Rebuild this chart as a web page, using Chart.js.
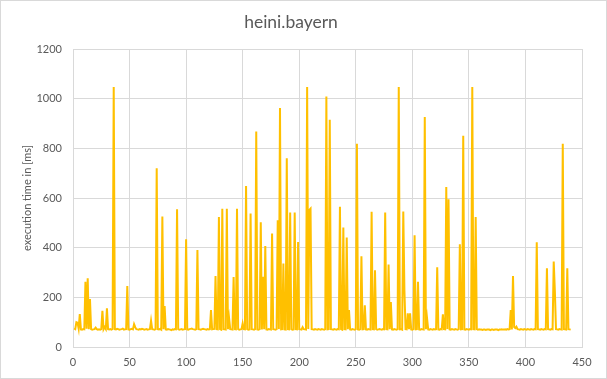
<!DOCTYPE html>
<html><head><meta charset="utf-8">
<script src="https://cdn.jsdelivr.net/npm/chart.js@4/dist/chart.umd.min.js"></script>
<style>html,body{margin:0;padding:0;background:#fff}#wrap{position:relative;width:607px;height:379px}</style>
</head><body><div id="wrap"><canvas id="c" width="607" height="379"></canvas></div>
<script>
const chartTitle = 'heini.bayern';
const yAxisTitle = 'execution time in [ms]';
const xTickValues = [0, 50, 100, 150, 200, 250, 300, 350, 400, 450];
const yTickValues = [0, 200, 400, 600, 800, 1000, 1200];
const executionTimes = [
  75, 72, 100, 98, 74, 133, 71, 70, 72, 71,
  263, 74, 277, 72, 193, 72, 70, 71, 72, 78,
  72, 70, 71, 70, 72, 146, 71, 80, 72, 156,
  72, 71, 72, 70, 73, 1047, 72, 71, 73, 72,
  70, 71, 72, 74, 70, 71, 72, 246, 71, 70,
  72, 73, 71, 92, 80, 72, 71, 70, 72, 71,
  73, 72, 70, 71, 72, 70, 71, 72, 106, 72,
  71, 70, 72, 720, 72, 71, 73, 70, 525, 72,
  165, 71, 70, 72, 71, 70, 68, 71, 70, 72,
  71, 555, 72, 70, 71, 72, 70, 71, 72, 434,
  71, 70, 72, 73, 74, 72, 71, 70, 72, 391,
  72, 71, 70, 72, 73, 72, 71, 70, 72, 71,
  72, 149, 71, 72, 73, 286, 72, 71, 523, 72,
  70, 557, 72, 71, 70, 557, 72, 116, 72, 71,
  70, 282, 72, 71, 557, 72, 70, 71, 72, 95,
  72, 71, 648, 72, 70, 71, 538, 72, 71, 70,
  72, 868, 71, 70, 72, 502, 71, 283, 72, 407,
  71, 70, 72, 71, 70, 457, 72, 71, 70, 72,
  510, 72, 962, 71, 72, 336, 71, 70, 760, 72,
  71, 542, 72, 70, 71, 542, 72, 71, 423, 72,
  71, 70, 80, 72, 71, 70, 1047, 72, 552, 557,
  72, 71, 70, 72, 71, 70, 72, 71, 70, 72,
  71, 70, 72, 1009, 71, 72, 915, 72, 71, 70,
  72, 71, 70, 72, 71, 565, 72, 70, 481, 72,
  71, 441, 72, 149, 71, 70, 72, 71, 70, 72,
  818, 71, 70, 72, 365, 71, 72, 168, 71, 70,
  72, 71, 70, 545, 72, 71, 309, 72, 70, 71,
  72, 71, 70, 72, 71, 542, 72, 71, 332, 72,
  181, 71, 70, 72, 71, 70, 72, 1047, 71, 72,
  70, 546, 228, 72, 71, 136, 72, 136, 71, 70,
  72, 450, 71, 72, 263, 71, 70, 72, 71, 70,
  926, 72, 116, 71, 70, 72, 71, 70, 72, 71,
  72, 321, 71, 70, 72, 71, 132, 72, 71, 644,
  72, 595, 71, 70, 72, 71, 70, 72, 71, 70,
  72, 414, 71, 72, 851, 71, 70, 72, 71, 70,
  72, 71, 1047, 72, 71, 523, 72, 70, 71, 70,
  70, 69, 70, 70, 69, 70, 70, 70, 68, 70,
  70, 69, 70, 70, 70, 68, 70, 70, 71, 70,
  70, 71, 70, 72, 71, 72, 149, 71, 286, 80,
  76, 82, 72, 71, 70, 72, 71, 70, 72, 71,
  70, 72, 71, 70, 72, 71, 70, 72, 71, 422,
  72, 71, 70, 72, 71, 70, 72, 71, 317, 72,
  71, 70, 72, 71, 344, 226, 72, 71, 70, 72,
  71, 70, 818, 72, 71, 70, 317, 72, 71, 70
];
const points = executionTimes.map((v, i) => ({ x: i + 1, y: v }));

const textColor = '#595959';
const gridColor = '#D9D9D9';
const fontFamily = 'Lato, "Open Sans", sans-serif';

const borderPlugin = {
  id: 'outerBorder',
  afterDraw(chart) {
    const ctx = chart.ctx;
    ctx.save();
    ctx.strokeStyle = '#D9D9D9';
    ctx.lineWidth = 1;
    ctx.strokeRect(0.5, 0.5, chart.width - 1, chart.height - 1);
    ctx.restore();
  }
};

new Chart(document.getElementById('c'), {
  type: 'scatter',
  data: {
    datasets: [{
      data: points,
      showLine: true,
      borderColor: '#FFC000',
      backgroundColor: '#FFC000',
      borderWidth: 2,
      pointRadius: 0,
      pointHoverRadius: 0,
      tension: 0
    }]
  },
  options: {
    responsive: false,
    devicePixelRatio: 1,
    animation: false,
    layout: { padding: { left: 0, right: 25, top: 0, bottom: 0 } },
    plugins: {
      legend: { display: false },
      tooltip: { enabled: false },
      title: {
        display: true,
        text: chartTitle,
        color: textColor,
        font: { family: fontFamily, size: 17.5, weight: 'normal', lineHeight: 1.2 },
        padding: { top: 12, bottom: 16 }
      }
    },
    scales: {
      x: {
        type: 'linear',
        min: 0, max: 450,
        afterBuildTicks: (s) => { s.ticks = xTickValues.map(v => ({ value: v })); },
        afterFit: (s) => { s.height = 32; },
        grid: { color: gridColor, drawTicks: false, lineWidth: 1 },
        border: { color: gridColor },
        ticks: { color: textColor, font: { family: fontFamily, size: 11 }, padding: 9, maxRotation: 0,
                 callback: (v) => String(v) }
      },
      y: {
        type: 'linear',
        min: 0, max: 1200,
        afterBuildTicks: (s) => { s.ticks = yTickValues.map(v => ({ value: v })); },
        afterFit: (s) => { s.width = 73; },
        grid: { color: gridColor, drawTicks: false, lineWidth: 1 },
        border: { color: gridColor },
        ticks: { color: textColor, font: { family: fontFamily, size: 11 }, padding: 11,
                 callback: (v) => String(v) },
        title: {
          display: true,
          text: yAxisTitle,
          color: textColor,
          font: { family: fontFamily, size: 11 },
          padding: { top: 21, bottom: 0 }
        }
      }
    }
  },
  plugins: [borderPlugin]
});
</script></body></html>
